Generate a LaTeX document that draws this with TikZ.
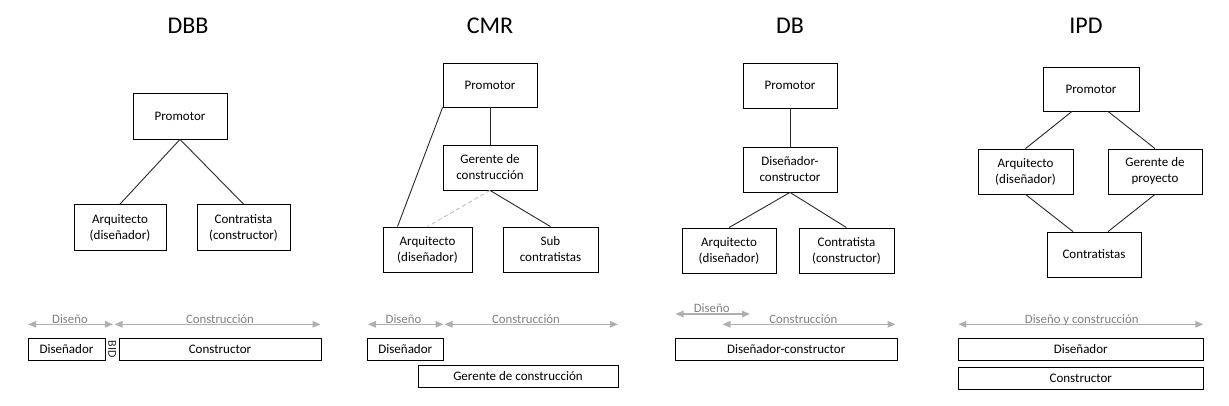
\documentclass[tikz,border=0pt]{standalone}
\usepackage{fontspec}
\setmainfont{Carlito}
\usetikzlibrary{arrows.meta}
\definecolor{arrgray}{RGB}{175,175,175}
\definecolor{labgray}{RGB}{128,128,128}
\definecolor{dashgray}{RGB}{190,190,190}
\tikzset{
  box/.style={draw=black, line width=0.8pt, rectangle, inner sep=0pt, align=center,
              font=\fontsize{13}{16}\selectfont, text=black},
  title/.style={font=\fontsize{24}{28}\selectfont, text=black},
  link/.style={draw={rgb,255:red,40;green,40;blue,40}, line width=0.9pt},
  dlink/.style={draw=dashgray, line width=0.9pt, dashed, dash pattern=on 4pt off 3pt},
  phase/.style={draw=arrgray, line width=1.2pt, {Triangle[length=8pt,width=6.5pt]}-{Triangle[length=8pt,width=6.5pt]}},
  plabel/.style={font=\fontsize{12.8}{15}\selectfont, text=labgray, anchor=base, inner sep=0pt},
}
\begin{document}
\begin{tikzpicture}[x=1pt,y=-1pt]
\useasboundingbox (0,0) rectangle (1229,405);

% ---------- titles
\node[title] (tDBB) at (188,26) {DBB};
\node[title] (tCMR) at (490,26) {CMR};
\node[title] (tDB) at (790,26) {DB};
\node[title] (tIPD) at (1086,26) {IPD};

% ---------- DBB
\node[box, minimum width=94pt, minimum height=46pt] (dbbP) at (180,116) {Promotor};
\node[box, minimum width=92pt, minimum height=46pt] (dbbA) at (120,227.5) {Arquitecto\\(diseñador)};
\node[box, minimum width=93pt, minimum height=46pt] (dbbC) at (243.5,227.5) {Contratista\\(constructor)};
\draw[link] (dbbP.south) -- (dbbA.north);
\draw[link] (dbbP.south) -- (dbbC.north);

% ---------- CMR
\node[box, minimum width=94pt, minimum height=44pt] (cmrP) at (490,85) {Promotor};
\node[box, minimum width=94pt, minimum height=45pt] (cmrG) at (490,167.5) {Gerente de\\construcción};
\node[box, minimum width=89pt, minimum height=45pt] (cmrA) at (427.5,249.5) {Arquitecto\\(diseñador)};
\node[box, minimum width=95pt, minimum height=45pt] (cmrS) at (550.5,249.5) {Sub\\contratistas};
\draw[link] (cmrP.south) -- (cmrG.north);
\draw[link] (cmrP.south west) -- ([xshift=-30pt]cmrA.north);
\draw[link] (cmrG.south) -- (cmrS.north);
\draw[dlink] (cmrG.south) -- (cmrA.north);

% ---------- DB
\node[box, minimum width=94pt, minimum height=45pt] (dbP) at (790,85.5) {Promotor};
\node[box, minimum width=94pt, minimum height=45pt] (dbD) at (790,169.5) {Diseñador-\\constructor};
\node[box, minimum width=94pt, minimum height=45pt] (dbA) at (729,250.5) {Arquitecto\\(diseñador)};
\node[box, minimum width=95pt, minimum height=45pt] (dbC) at (846.5,250.5) {Contratista\\(constructor)};
\draw[link] (dbP.south) -- (dbD.north);
\draw[link] (dbD.south) -- (dbA.north);
\draw[link] (dbD.south) -- (dbC.north);

% ---------- IPD
\node[box, minimum width=96pt, minimum height=44pt] (ipP) at (1091,89) {Promotor};
\node[box, minimum width=95pt, minimum height=45pt] (ipA) at (1025.5,171.5) {Arquitecto\\(diseñador)};
\node[box, minimum width=94pt, minimum height=45pt] (ipG) at (1155,171.5) {Gerente de\\proyecto};
\node[box, minimum width=94pt, minimum height=45pt] (ipC) at (1094,254.5) {Contratistas};
\draw[link] ([xshift=-19pt]ipP.south) -- (ipA.north);
\draw[link] ([xshift=17pt]ipP.south) -- (ipG.north);
\draw[link] (ipA.south) -- ([xshift=-21pt]ipC.north);
\draw[link] (ipG.south) -- ([xshift=14pt]ipC.north);

% ---------- bottom: DBB
\coordinate (dbbD1) at (28,324.3);
\coordinate (dbbD2) at (113,324.3);
\coordinate (dbbK1) at (114.5,324.3);
\coordinate (dbbK2) at (320.5,324.3);
\draw[phase] (dbbD1) -- (dbbD2);
\draw[phase] (dbbK1) -- (dbbK2);
\node[plabel] (dbbLD) at (70,323) {Diseño};
\node[plabel] (dbbLK) at (220,323) {Construcción};
\node[box, minimum width=77pt, minimum height=22pt] (dbbDis) at (66.5,349.3) {Diseñador};
\node[box, minimum width=202pt, minimum height=22pt] (dbbCon) at (220,349.3) {Constructor};
\node[font=\fontsize{12}{13}\selectfont, text=black!85, rotate=-90, inner sep=0pt] (bid) at (112.3,349.3) {BID};

% ---------- bottom: CMR
\coordinate (cmrD1) at (368,324.3);
\coordinate (cmrD2) at (443.5,324.3);
\coordinate (cmrK1) at (444.5,324.3);
\coordinate (cmrK2) at (618,324.3);
\draw[phase] (cmrD1) -- (cmrD2);
\draw[phase] (cmrK1) -- (cmrK2);
\node[plabel] (cmrLD) at (403.5,323) {Diseño};
\node[plabel] (cmrLK) at (526,323) {Construcción};
\node[box, minimum width=76pt, minimum height=22pt] (cmrDis) at (405.3,349.3) {Diseñador};
\node[box, minimum width=200pt, minimum height=22pt] (cmrGer) at (518,376.3) {Gerente de construcción};

% ---------- bottom: DB
\coordinate (dbD1) at (675.5,314);
\coordinate (dbD2) at (750,314);
\coordinate (dbK1) at (722.5,324.3);
\coordinate (dbK2) at (895.5,324.3);
\draw[phase] (dbD1) -- (dbD2);
\draw[phase] (dbK1) -- (dbK2);
\node[plabel] (dbLD) at (711.7,312.5) {Diseño};
\node[plabel] (dbLK) at (803.3,323) {Construcción};
\node[box, minimum width=222pt, minimum height=22pt] (dbDC) at (786.2,349.3) {Diseñador-constructor};

% ---------- bottom: IPD
\coordinate (ipK1) at (958.3,324.3);
\coordinate (ipK2) at (1203.3,324.3);
\draw[phase] (ipK1) -- (ipK2);
\node[plabel] (ipLK) at (1081.7,323) {Diseño y construcción};
\node[box, minimum width=245pt, minimum height=22pt] (ipDis) at (1080.8,349.3) {Diseñador};
\node[box, minimum width=245pt, minimum height=21.5pt] (ipCon) at (1080.8,378.5) {Constructor};
\end{tikzpicture}
\end{document}
